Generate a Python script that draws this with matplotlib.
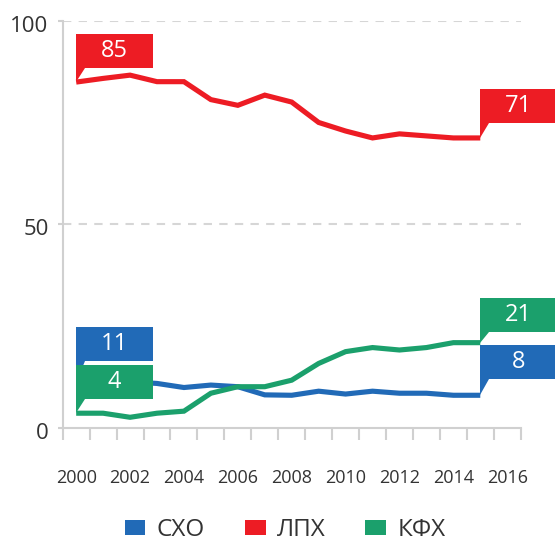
import matplotlib
matplotlib.use("Agg")
import matplotlib.pyplot as plt
import matplotlib.transforms as mtransforms
from matplotlib.patches import Polygon, Patch

# data
years = list(range(2000, 2016))
cho = [11, 11.2, 11.4, 11, 10, 10.6, 10.2, 8.2, 8.1, 9.1, 8.4, 9.1, 8.6, 8.6, 8.1, 8.1]
lph = [84.9, 85.8, 86.6, 85, 85, 80.6, 79.2, 81.7, 80, 75, 72.9, 71.2, 72.2, 71.7, 71.2, 71.2]
kfh = [3.7, 3.7, 2.7, 3.7, 4.2, 8.6, 10.2, 10.2, 11.8, 15.9, 18.8, 19.8, 19.2, 19.8, 21, 21]
series_names = ["СХО", "ЛПХ", "КФХ"]
series_values = [cho, lph, kfh]
colors = ["#216AB7", "#ED1C24", "#1BA06C"]
start_labels = ["11", "85", "4"]
end_labels = ["8", "71", "21"]
x_labels = [str(y) for y in range(2000, 2017, 2)]
y_ticks = [0, 50, 100]

# how far (px) each callout box sits above its point
start_lift = [22, 14, 14]
end_lift = [16, 15, 11]

plt.rcParams['font.family'] = ['Open Sans', 'DejaVu Sans']
grey = "#d0d0d0"
text_col = "#333333"

fig = plt.figure(figsize=(5.55, 5.41), dpi=100)
ax = fig.add_axes([62.7 / 555, 1 - 428.3 / 541, 458 / 555, 407.8 / 541])


def callout(x, y, text, color, lift, w=77, h=34, tip=9):
    # box + little pointer, drawn in pixel offsets from the data point
    trans = fig.dpi_scale_trans + mtransforms.ScaledTranslation(x, y, ax.transData)
    pts = [(0, 0), (0, lift + h), (w, lift + h), (w, lift), (tip, lift)]
    pts = [(px / 100, py / 100) for px, py in pts]
    ax.add_patch(Polygon(pts, closed=True, transform=trans, facecolor=color,
                         edgecolor="none", clip_on=False, zorder=5))
    ax.text(w / 200, (lift + h / 2) / 100, text, transform=trans, color="white",
            fontsize=17, ha="center", va="center", zorder=6, clip_on=False)


for i, vals in enumerate(series_values):
    ax.plot(years, vals, color=colors[i], lw=3.7, solid_capstyle="butt",
            solid_joinstyle="miter", zorder=3 + i * 0.1)

for i in range(3):
    callout(years[0], series_values[i][0], start_labels[i], colors[i], start_lift[i])
    callout(years[-1], series_values[i][-1], end_labels[i], colors[i], end_lift[i])

ax.set_xlim(1999.5, 2016.5)
ax.set_ylim(0, 100)

# axes styling
for s in ["top", "right"]:
    ax.spines[s].set_visible(False)
for s in ["left", "bottom"]:
    ax.spines[s].set_color(grey)
    ax.spines[s].set_linewidth(1.5)

ax.set_yticks(y_ticks)
ax.set_yticklabels([str(v) for v in y_ticks])
ax.tick_params(axis="y", length=3.6, width=1.5, color=grey, pad=6.5,
               labelsize=16, labelcolor=text_col)
# labels sit a touch below their tick in the original
shift = mtransforms.ScaledTranslation(0, -3 / 100, fig.dpi_scale_trans)
for lab in ax.get_yticklabels():
    lab.set_transform(lab.get_transform() + shift)
for v in y_ticks[1:]:
    ax.axhline(v, color="#d6d6d6", lw=1.5, ls=(0, (4, 3.5)), zorder=1)

ax.set_xticks(range(2000, 2017, 2))
ax.set_xticklabels(x_labels)
ax.set_xticks([y - 0.5 for y in range(2000, 2018)], minor=True)
ax.tick_params(axis="x", which="major", length=0, pad=29,
               labelsize=13, labelcolor=text_col)
ax.tick_params(axis="x", which="minor", length=8.6, width=1.5, color=grey)

handles = [Patch(facecolor=c, label=n) for c, n in zip(colors, series_names)]
fig.legend(handles=handles, loc="center", bbox_to_anchor=(285 / 555, 1 - 530 / 541),
           ncol=3, frameon=False, fontsize=17.5, handlelength=0.86, handleheight=0.58,
           handletextpad=0.45, columnspacing=1.65, labelcolor=text_col)

fig.savefig("out.png", dpi=100)
